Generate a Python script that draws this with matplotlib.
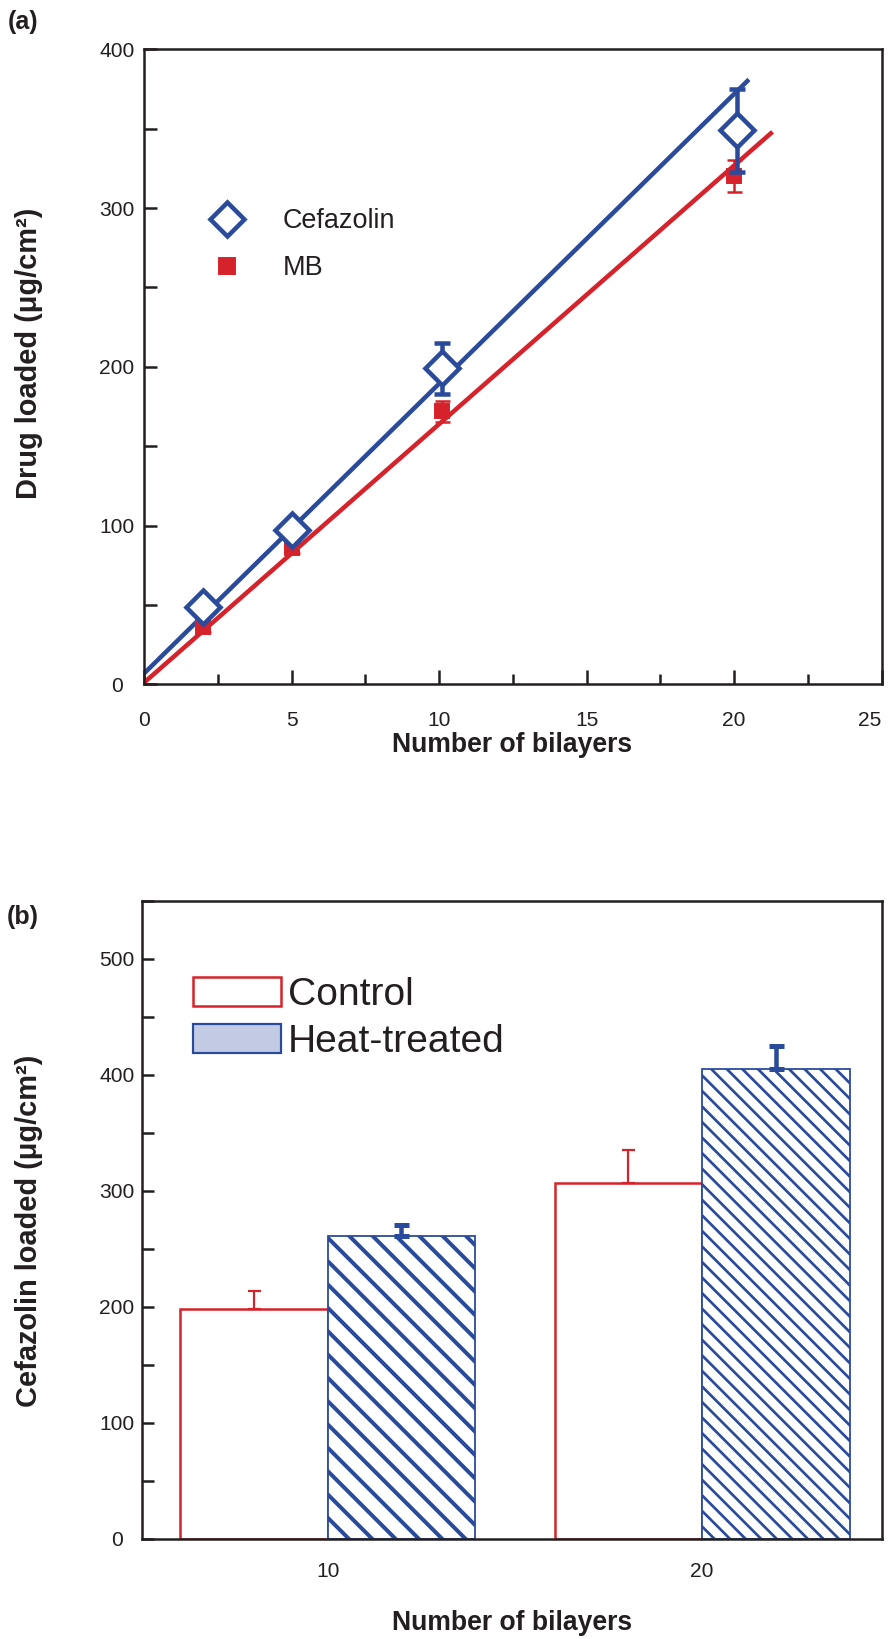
import matplotlib
matplotlib.use('Agg')
import matplotlib.pyplot as plt
import numpy as np
from matplotlib.lines import Line2D
from matplotlib.patches import Patch
from matplotlib.ticker import MultipleLocator

plt.rcParams['font.family'] = ['Liberation Sans', 'DejaVu Sans']

BLUE = '#2a4b9b'
RED = '#d6232b'
DARK = '#231f20'
plt.rcParams['text.color'] = DARK
plt.rcParams['xtick.color'] = DARK
plt.rcParams['ytick.color'] = DARK

# ---------------- Panel (a) data ----------------
bilayers_cef = [2.0, 5.0, 10.1, 20.1]
cefazolin = [49, 97, 199, 349]
cefazolin_err = [5, 6, 16, 26]
bilayers_mb = [2.0, 5.0, 10.1, 20.0]
mb = [36, 86, 172, 320]
mb_err = [3, 3, 6.5, 10]
fit_x_cef = [0, 20.5]
fit_y_cef = [6.8, 381]
fit_x_mb = [0, 21.3]
fit_y_mb = [1, 348]
x_ticks_a = [0, 5, 10, 15, 20, 25]

# ---------------- Panel (b) data ----------------
groups = ['10', '20']
control = [198, 307]
control_err = [16, 28]
heat = [261, 405]
heat_err = [10, 20]
heat_hatches = ['\\\\', '\\\\\\']

DPI = 140
W, H = 888, 1639


def P(px):
    """pixels -> points"""
    return px * 72.0 / DPI


heat_hatch_lw = [P(4.0), P(2.7)]

fig = plt.figure(figsize=(W / DPI, H / DPI), dpi=DPI)


def frac(x0, y0, x1, y1):
    return [x0 / W, 1 - y1 / H, (x1 - x0) / W, (y1 - y0) / H]


def style_axes(ax):
    for s in ax.spines.values():
        s.set_linewidth(P(2.5))
        s.set_color(DARK)


TICK_FS = P(21)
XLAB_FS = P(26.5)
YLAB_FS = P(29)

# ================= Panel (a) =================
ax1 = fig.add_axes(frac(144, 49.3, 881.7, 684.3))
style_axes(ax1)
ax1.plot(fit_x_mb, fit_y_mb, color=RED, lw=P(4.5), solid_capstyle='butt', zorder=2)
ax1.plot(fit_x_cef, fit_y_cef, color=BLUE, lw=P(4.5), solid_capstyle='butt', zorder=2)
ax1.errorbar(bilayers_mb, mb, yerr=mb_err, fmt='s', ms=P(14), color=RED,
             ecolor=RED, elinewidth=P(2.5), capsize=P(7.5), capthick=P(2.5), zorder=3)
ax1.errorbar(bilayers_cef, cefazolin, yerr=cefazolin_err, fmt='D', ms=P(24),
             mfc='white', mec=BLUE, mew=P(4.5), ecolor=BLUE, elinewidth=P(4.5),
             capsize=P(8), capthick=P(4.5), zorder=4)

ax1.set_xlim(0, 25)
ax1.set_ylim(0, 400)
ax1.set_xticks(x_ticks_a)
ax1.set_xticklabels([str(v) for v in x_ticks_a])
ax1.xaxis.set_minor_locator(MultipleLocator(2.5))
ax1.yaxis.set_major_locator(MultipleLocator(100))
ax1.yaxis.set_minor_locator(MultipleLocator(50))
ax1.tick_params(axis='x', which='major', direction='in', length=P(14), width=P(2.5),
                labelsize=TICK_FS, pad=P(27))
ax1.tick_params(axis='x', which='minor', direction='in', length=P(10), width=P(2.5))
ax1.tick_params(axis='y', which='both', direction='in', length=P(13), width=P(2.5),
                labelsize=TICK_FS, pad=P(27))
for t in ax1.yaxis.get_major_ticks():
    t.label1.set_horizontalalignment('center')
ax1.xaxis.get_major_ticks()[len(x_ticks_a) - 1].label1.set_horizontalalignment('right')

h_a = [Line2D([], [], ls='none', marker='D', ms=P(24), mfc='white', mec=BLUE, mew=P(4.5)),
       Line2D([], [], ls='none', marker='s', ms=P(16), color=RED)]
ax1.legend(h_a, ['Cefazolin', 'MB'], loc='upper left',
           bbox_to_anchor=(0.0755, 0.750), frameon=False, fontsize=P(27),
           handlelength=2, handletextpad=1.08, labelspacing=0.79,
           borderpad=0, borderaxespad=0, numpoints=1)

fig.text(512 / W, 1 - 745 / H, 'Number of bilayers', ha='center', va='center',
         fontsize=XLAB_FS, fontweight='bold')
fig.text(29 / W, 1 - 353 / H, 'Drug loaded (μg/cm²)', ha='center', va='center',
         rotation=90, fontsize=YLAB_FS, fontweight='bold')
fig.text(23 / W, 1 - 22 / H, '(a)', ha='center', va='center', fontsize=P(25),
         fontweight='bold')

# ================= Panel (b) =================
ax2 = fig.add_axes(frac(141.7, 901, 881.7, 1539))
style_axes(ax2)
x = np.arange(len(groups))
w = 0.394
ax2.bar(x - w, control, w, align='edge', facecolor='white', edgecolor=RED,
        lw=P(2.5), zorder=2)
hb = ax2.bar(x, heat, w, align='edge', facecolor='white', edgecolor=BLUE,
             lw=P(1.8), zorder=2)
for bar, hp, hl in zip(hb, heat_hatches, heat_hatch_lw):
    bar.set_hatch(hp)
    try:
        bar.set_hatch_linewidth(hl)
    except AttributeError:
        plt.rcParams['hatch.linewidth'] = P(3.3)
zeros = np.zeros(len(groups))
ax2.errorbar(x - w / 2, control, yerr=[zeros, control_err], fmt='none',
             ecolor=RED, elinewidth=P(2.2), capsize=P(6.5), capthick=P(2.2), zorder=3)
ax2.errorbar(x + w / 2, heat, yerr=[zeros, heat_err], fmt='none',
             ecolor=BLUE, elinewidth=P(4.5), capsize=P(7.5), capthick=P(5), zorder=3)

ax2.set_xlim(-0.497, 1.48)
ax2.set_ylim(0, 550)
ax2.set_xticks(x)
ax2.set_xticklabels(groups)
ax2.yaxis.set_major_locator(MultipleLocator(100))
ax2.yaxis.set_minor_locator(MultipleLocator(50))
ax2.tick_params(axis='x', length=0, labelsize=TICK_FS, pad=P(23))
ax2.tick_params(axis='y', which='both', direction='in', length=P(12), width=P(2.5),
                labelsize=TICK_FS, pad=P(25))
for t in ax2.yaxis.get_major_ticks():
    t.label1.set_horizontalalignment('center')

h_b = [Patch(facecolor='white', edgecolor=RED, lw=P(2.5)),
       Patch(facecolor='#c3cbe4', edgecolor=BLUE, lw=P(2.2))]
ax2.legend(h_b, ['Control', 'Heat-treated'], loc='upper left',
           bbox_to_anchor=(0.069, 0.881), frameon=False, fontsize=P(39),
           handlelength=2.26, handleheight=0.77, handletextpad=0.18,
           labelspacing=0.27, borderpad=0, borderaxespad=0)

fig.text(512 / W, 1 - 1623.5 / H, 'Number of bilayers', ha='center', va='center',
         fontsize=XLAB_FS, fontweight='bold')
fig.text(29 / W, 1 - 1231 / H, 'Cefazolin loaded (μg/cm²)', ha='center',
         va='center', rotation=90, fontsize=YLAB_FS, fontweight='bold')
fig.text(23 / W, 1 - 917 / H, '(b)', ha='center', va='center', fontsize=P(25),
         fontweight='bold')

fig.savefig('out.png', dpi=DPI)
